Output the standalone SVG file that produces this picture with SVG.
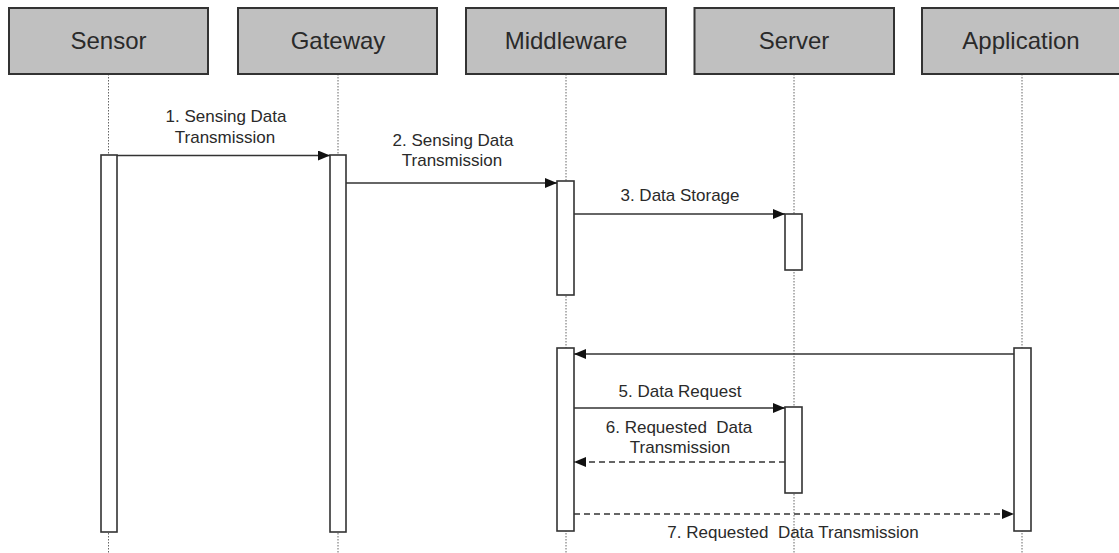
<svg xmlns="http://www.w3.org/2000/svg" width="1119" height="553" viewBox="0 0 1119 553">
  <style>
    .head { fill: #c0c0c0; stroke: #333; stroke-width: 2; }
    .htxt { font-family: "Liberation Sans", Arial, sans-serif; font-size: 24px; fill: #2a2a2a; text-anchor: middle; }
    .life { stroke: #666; stroke-width: 1; stroke-dasharray: 1.5 1.5; fill: none; }
    .act { fill: #fff; stroke: #333; stroke-width: 1.6; }
    .msg { stroke: #333; stroke-width: 1.5; fill: none; marker-end: url(#tri); }
    .ret { stroke: #333; stroke-width: 1.5; fill: none; stroke-dasharray: 6 4; marker-end: url(#tri); }
    .lbl { font-family: "Liberation Sans", Arial, sans-serif; font-size: 17px; fill: #2a2a2a; text-anchor: middle; white-space: pre; }
  </style>
  <defs>
    <marker id="tri" viewBox="0 0 12 10" refX="12" refY="5" markerWidth="12" markerHeight="10" markerUnits="userSpaceOnUse" orient="auto">
      <path d="M0,0 L12,5 L0,10 Z" fill="#111"/>
    </marker>
  </defs>
  <rect width="1119" height="553" fill="#fff"/>

  <!-- lifelines -->
  <g id="lifelines">
    <line class="life" x1="108.5" y1="74" x2="108.5" y2="553"/>
    <line class="life" x1="338" y1="74" x2="338" y2="553"/>
    <line class="life" x1="566" y1="74" x2="566" y2="553"/>
    <line class="life" x1="794" y1="74" x2="794" y2="553"/>
    <line class="life" x1="1022" y1="74" x2="1022" y2="553"/>
  </g>

  <!-- participants -->
  <g id="sensor">
    <rect class="head" x="9" y="8" width="199" height="66"/>
    <text class="htxt" x="108.5" y="49">Sensor</text>
    <rect class="act" x="101" y="155" width="16" height="377"/>
  </g>
  <g id="gateway">
    <rect class="head" x="238" y="8" width="199" height="66"/>
    <text class="htxt" x="338" y="49">Gateway</text>
    <rect class="act" x="330" y="155" width="16" height="377"/>
  </g>
  <g id="middleware">
    <rect class="head" x="466" y="8" width="200" height="66"/>
    <text class="htxt" x="566" y="49">Middleware</text>
    <rect class="act" x="557" y="181" width="17" height="114"/>
    <rect class="act" x="557" y="348" width="17" height="183"/>
  </g>
  <g id="server">
    <rect class="head" x="694.5" y="8" width="199.5" height="66"/>
    <text class="htxt" x="794" y="49">Server</text>
    <rect class="act" x="785" y="214" width="17" height="56"/>
    <rect class="act" x="785" y="407" width="17" height="86"/>
  </g>
  <g id="application">
    <rect class="head" x="922" y="8" width="199" height="66"/>
    <text class="htxt" x="1021" y="49">Application</text>
    <rect class="act" x="1014" y="348" width="17" height="183"/>
  </g>

  <!-- messages -->
  <g id="connectors">
    <line class="msg" x1="117" y1="155.5" x2="330" y2="155.5"/>
    <line class="msg" x1="346" y1="183" x2="557" y2="183"/>
    <line class="msg" x1="574" y1="214" x2="785" y2="214"/>
    <line class="msg" x1="1014" y1="354" x2="574" y2="354"/>
    <line class="msg" x1="574" y1="408" x2="785" y2="408"/>
    <line class="ret" x1="785" y1="462" x2="574" y2="462"/>
    <line class="ret" x1="574" y1="514" x2="1014" y2="514"/>
  </g>

  <g id="labels">
    <text class="lbl" x="226" y="122">1. Sensing Data</text>
    <text class="lbl" x="225" y="143">Transmission</text>
    <text class="lbl" x="453" y="146">2. Sensing Data</text>
    <text class="lbl" x="452" y="166">Transmission</text>
    <text class="lbl" x="680" y="201">3. Data Storage</text>
    <text class="lbl" x="680" y="397">5. Data Request</text>
    <text class="lbl" x="679" y="433" xml:space="preserve">6. Requested  Data</text>
    <text class="lbl" x="680" y="453">Transmission</text>
    <text class="lbl" x="793" y="538" xml:space="preserve">7. Requested  Data Transmission</text>
  </g>
</svg>
